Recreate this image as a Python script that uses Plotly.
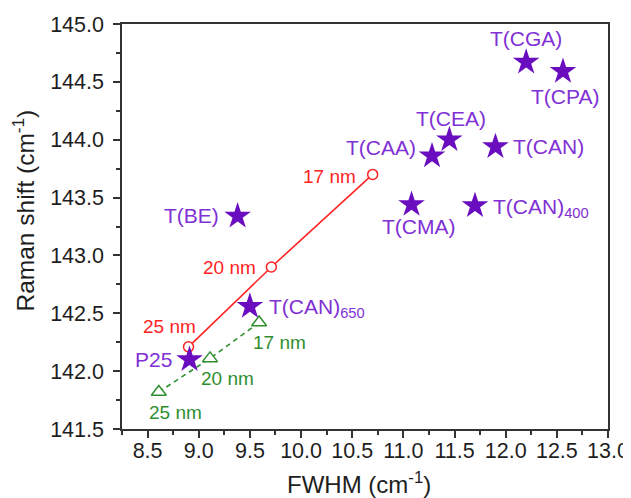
import plotly.graph_objects as go

# ---- data ----
star_names = ["T(CGA)", "T(CPA)", "T(CEA)", "T(CAA)", "T(CAN)", "T(CMA)",
              "T(CAN)<sub>400</sub>", "T(BE)", "T(CAN)<sub>650</sub>", "P25"]
star_fwhm = [12.20, 12.56, 11.45, 11.28, 11.90, 11.08, 11.70, 9.38, 9.50, 8.91]
star_shift = [144.67, 144.59, 144.00, 143.86, 143.94, 143.44, 143.43, 143.34, 142.56, 142.10]

red_labels = ["17 nm", "20 nm", "25 nm"]
red_fwhm = [10.70, 9.71, 8.90]
red_shift = [143.70, 142.90, 142.21]

green_labels = ["17 nm", "20 nm", "25 nm"]
green_fwhm = [9.59, 9.11, 8.61]
green_shift = [142.42, 142.11, 141.82]

x_range = [8.25, 13.0]
y_range = [141.5, 145.0]
x_title = "FWHM (cm<sup>-1</sup>)"
y_title = "Raman shift (cm<sup>-1</sup>)"

# ---- styles ----
STAR_C = "#6A0DBF"
STAR_TXT = "#8030D4"
RED = "#FF2424"
GREEN = "#2F8F2F"
AXC = "#333333"
TXT = "#1E1E1E"
FONT = "Liberation Sans, Arial, sans-serif"

# label placement (pixel offsets: xanchor, yanchor, xshift, yshift)
star_lab_pos = [
    ("center", "middle", 0, 24),
    ("center", "middle", 2, -25),
    ("center", "middle", 2, 21),
    ("right", "middle", -14, 8),
    ("left", "middle", 16, 0),
    ("center", "middle", 7, -22),
    ("left", "middle", 16, -2),
    ("right", "middle", -17, 1),
    ("left", "middle", 17, -2),
    ("right", "middle", -16, 0),
]
red_lab_pos = [
    ("right", "middle", -15, -2),
    ("right", "middle", -13, 0),
    ("center", "middle", -19, 20),
]
green_lab_pos = [
    ("center", "middle", 20, -20),
    ("center", "middle", 18, -20),
    ("center", "middle", 17, -21),
]

fig = go.Figure()

fig.add_trace(go.Scatter(
    x=red_fwhm, y=red_shift, mode="lines+markers",
    line=dict(color=RED, width=1.6),
    marker=dict(symbol="circle", size=10, color="white",
                line=dict(color=RED, width=1.5)),
    showlegend=False, hoverinfo="skip"))

fig.add_trace(go.Scatter(
    x=green_fwhm, y=green_shift, mode="lines+markers",
    line=dict(color=GREEN, width=1.6, dash="5px,4px"),
    marker=dict(symbol="triangle-up", size=13, color="white",
                line=dict(color=GREEN, width=1.5)),
    showlegend=False, hoverinfo="skip"))

fig.add_trace(go.Scatter(
    x=star_fwhm, y=star_shift, mode="markers",
    marker=dict(symbol="star", size=20, color=STAR_C,
                line=dict(width=0)),
    showlegend=False, hoverinfo="skip"))

annotations = []
for name, xv, yv, (xa, ya, xs, ys) in zip(star_names, star_fwhm, star_shift, star_lab_pos):
    annotations.append(dict(x=xv, y=yv, xref="x", yref="y", text=name, showarrow=False,
                            xanchor=xa, yanchor=ya, xshift=xs, yshift=ys,
                            font=dict(family=FONT, size=21, color=STAR_TXT)))
for name, xv, yv, (xa, ya, xs, ys) in zip(red_labels, red_fwhm, red_shift, red_lab_pos):
    annotations.append(dict(x=xv, y=yv, xref="x", yref="y", text=name, showarrow=False,
                            xanchor=xa, yanchor=ya, xshift=xs, yshift=ys,
                            font=dict(family=FONT, size=19, color=RED)))
for name, xv, yv, (xa, ya, xs, ys) in zip(green_labels, green_fwhm, green_shift, green_lab_pos):
    annotations.append(dict(x=xv, y=yv, xref="x", yref="y", text=name, showarrow=False,
                            xanchor=xa, yanchor=ya, xshift=xs, yshift=ys,
                            font=dict(family=FONT, size=19, color=GREEN)))

# axis titles as annotations for exact placement
annotations.append(dict(x=0, y=0.5, xref="paper", yref="paper", text=y_title, showarrow=False,
                        xanchor="center", yanchor="middle", xshift=-99, yshift=16, textangle=-90,
                        font=dict(family=FONT, size=24.5, color=TXT)))
annotations.append(dict(x=0.5, y=0, xref="paper", yref="paper", text=x_title, showarrow=False,
                        xanchor="center", yanchor="middle", xshift=-6, yshift=-54,
                        font=dict(family=FONT, size=24, color=TXT)))

axis_common = dict(
    showline=True, linecolor=AXC, linewidth=1.5, mirror=True,
    ticks="outside", ticklen=7, tickwidth=1.5, tickcolor=AXC,
    showgrid=False, zeroline=False, tickformat=".1f", automargin=False,
    tickfont=dict(family=FONT, size=21.5, color=TXT),
)

# the page body adds an 8 px margin, so the figure is drawn 8 px smaller
fig.update_layout(
    width=623, height=490,
    margin=dict(l=114, r=23, t=16, b=69),
    paper_bgcolor="white", plot_bgcolor="white",
    font=dict(family=FONT, color=TXT),
    annotations=annotations,
    xaxis=dict(range=x_range, dtick=0.5, tick0=8.5, ticklabelstandoff=-6,
               minor=dict(ticks="outside", ticklen=4, tickwidth=1.5, tickcolor=AXC, dtick=0.25, tick0=8.25),
               **axis_common),
    yaxis=dict(range=y_range, dtick=0.5, tick0=141.5, ticklabelstandoff=5,
               minor=dict(ticks="outside", ticklen=4, tickwidth=1.5, tickcolor=AXC, dtick=0.25, tick0=141.5),
               **axis_common),
)

fig.write_html("out.html")
